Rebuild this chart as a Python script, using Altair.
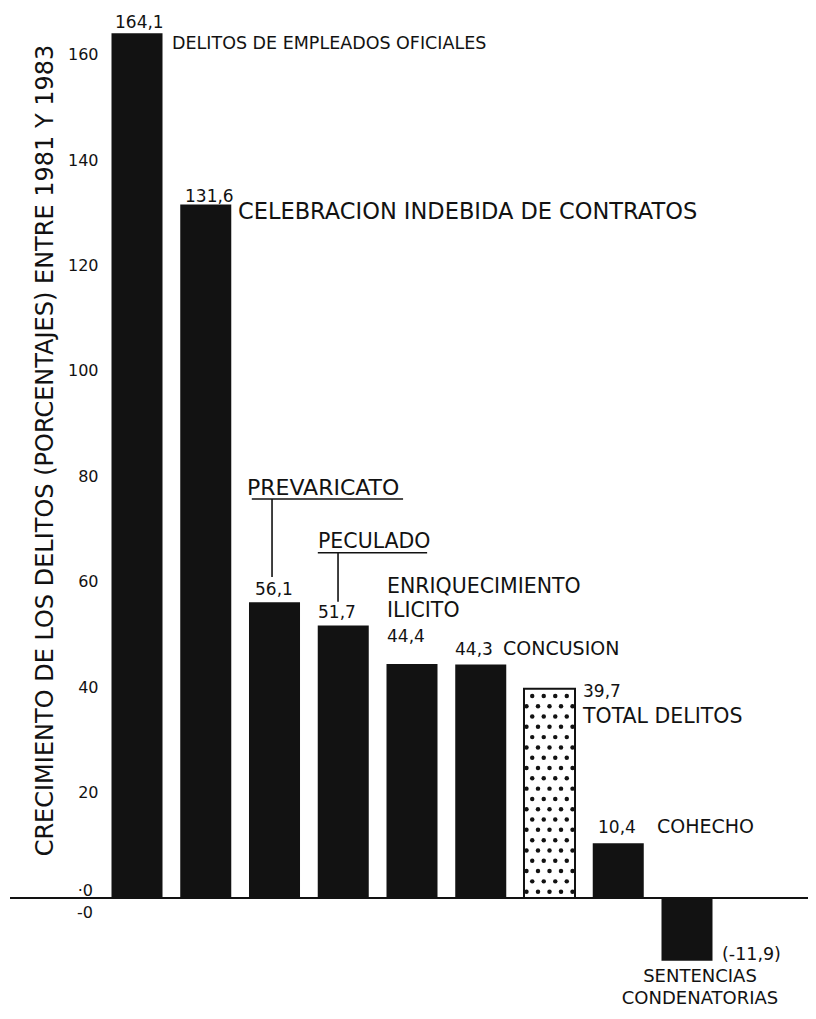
import altair as alt
import numpy as np
import pandas as pd

# ---------------- data ----------------
categories = [
    "DELITOS DE EMPLEADOS OFICIALES",
    "CELEBRACION INDEBIDA DE CONTRATOS",
    "PREVARICATO",
    "PECULADO",
    "ENRIQUECIMIENTO ILICITO",
    "CONCUSION",
    "TOTAL DELITOS",
    "COHECHO",
    "SENTENCIAS CONDENATORIAS",
]
values = [164.1, 131.6, 56.1, 51.7, 44.4, 44.3, 39.7, 10.4, -11.9]
value_labels = ["164,1", "131,6", "56,1", "51,7", "44,4", "44,3", "39,7", "10,4", "(-11,9)"]
y_ticks = [20, 40, 60, 80, 100, 120, 140, 160]
zero_labels = ["·0", "-0"]
axis_title = "CRECIMIENTO DE LOS DELITOS (PORCENTAJES) ENTRE 1981 Y 1983"
total_name = "TOTAL DELITOS"

# ---------------- styling ----------------
FONT = "DejaVu Sans"
INK = "#121212"
X_DOM = [-1.8764, 9.760]
Y_DOM = [-17.08, 168.88]
HALF = 0.371

df = pd.DataFrame({
    "idx": list(range(len(categories))),
    "name": categories,
    "value": values,
    "vlabel": value_labels,
})

xs = alt.Scale(domain=X_DOM, nice=False, zero=False)
ys = alt.Scale(domain=Y_DOM, nice=False, zero=False)
yaxis = alt.Axis(
    values=y_ticks,
    title=axis_title,
    labelFont=FONT, labelFontSize=16, labelColor=INK,
    domain=False, ticks=False, grid=False,
    offset=-90, labelPadding=0,
    titleFont=FONT, titleFontSize=24, titleFontWeight="normal", titleColor=INK,
    titleAngle=270, titleX=-53, titleY=442,
    titleAlign="center", titleBaseline="middle",
)


def X(f):
    return alt.X(f, type="quantitative", scale=xs, axis=None)


def Y(f):
    return alt.Y(f, type="quantitative", scale=ys, axis=yaxis)


base = alt.Chart(df)

solid = (
    base.transform_filter(alt.datum.name != total_name)
    .transform_calculate(x0=f"datum.idx - {HALF}", x1=f"datum.idx + {HALF}", zero="0")
    .mark_bar(color=INK)
    .encode(x=X("x0"), x2="x1:Q", y=Y("value"), y2="zero:Q")
)

hatched = (
    base.transform_filter(alt.datum.name == total_name)
    .transform_calculate(x0=f"datum.idx - {HALF}", x1=f"datum.idx + {HALF}", zero="0")
    .mark_bar(fill="white", stroke=INK, strokeWidth=2)
    .encode(x=X("x0"), x2="x1:Q", y=Y("value"), y2="zero:Q")
)

# dotted texture of the total bar
ti = categories.index(total_name)
tv = values[ti]
row_a = np.linspace(-0.335, 0.335, 5)
row_b = (row_a[:-1] + row_a[1:]) / 2
dx_list, dy_list = [], []
yy = 1.2
r = 0
while yy < tv - 0.6:
    offs = row_a if r % 2 == 0 else row_b
    for o in offs:
        dx_list.append(ti + o)
        dy_list.append(yy)
    yy += 1.955
    r += 1
dots_df = pd.DataFrame({"x": dx_list, "y": dy_list})
dots = alt.Chart(dots_df).mark_circle(color=INK, size=20, opacity=1).encode(
    x=X("x"), y=Y("y")
)

zero_line = alt.Chart(pd.DataFrame({"y": [0]})).mark_rule(color=INK, strokeWidth=2).encode(
    x=alt.value(2), x2=alt.value(808), y=Y("y")
)

zdf = pd.DataFrame({"t": zero_labels, "y": [0, 0]})
zero_top = alt.Chart(zdf).transform_filter(alt.datum.t == zero_labels[0]).mark_text(
    font=FONT, fontSize=16, color=INK, align="right", baseline="alphabetic", dy=-2
).encode(x=alt.value(85), y=Y("y"), text="t:N")
zero_bottom = alt.Chart(zdf).transform_filter(alt.datum.t == zero_labels[1]).mark_text(
    font=FONT, fontSize=16, color=INK, align="right", baseline="alphabetic", dy=20
).encode(x=alt.value(85), y=Y("y"), text="t:N")


def leader(i, xoff, ylo, yhi, ux0, ux1):
    sub = base.transform_filter(alt.datum.idx == i)
    vert = sub.transform_calculate(
        lx=f"datum.idx + ({xoff})", ya=f"datum.value + {ylo}", yb=f"datum.value + {yhi}"
    ).mark_rule(color=INK, strokeWidth=1.6).encode(x=X("lx"), y=Y("ya"), y2="yb:Q")
    under = sub.transform_calculate(
        ua=f"datum.idx + ({ux0})", ub=f"datum.idx + ({ux1})", yu=f"datum.value + {yhi}"
    ).mark_rule(color=INK, strokeWidth=1.4).encode(x=X("ua"), x2="ub:Q", y=Y("yu"))
    return [vert, under]


def label(field, i, dx, dy, size, align="left", line_height=None):
    kw = dict(font=FONT, fontSize=size, color=INK, align=align, baseline="alphabetic", dx=dx, dy=dy)
    if line_height:
        kw.update(lineBreak=" ", lineHeight=line_height)
    return (
        base.transform_filter(alt.datum.idx == i)
        .mark_text(**kw)
        .encode(x=X("idx"), y=Y("value"), text=f"{field}:N")
    )


texts = [
    label("vlabel", 0, -22, -5.2, 17),
    label("name", 0, 35, 15.8, 17.5),
    label("vlabel", 1, -20.75, -2.5, 17),
    label("name", 1, 32.25, 14.5, 22.5),
    label("vlabel", 2, -19.5, -7.4, 17),
    label("name", 2, -27.5, -107.4, 22),
    label("vlabel", 3, -25.25, -7.5, 17),
    label("name", 3, -25.25, -77.5, 20.5),
    label("vlabel", 4, -25, -22, 17),
    label("name", 4, -25, -71, 20.5, line_height=24),
    label("vlabel", 5, -25.75, -9.5, 17),
    label("name", 5, 22.25, -9.5, 19),
    label("vlabel", 6, 33.5, 8.2, 17),
    label("name", 6, 33.5, 34.2, 20.5),
    label("vlabel", 7, -20.25, -10.2, 17),
    label("name", 7, 38.75, -10.2, 19),
    label("vlabel", 8, 35, -1, 17.5),
    label("name", 8, 13, 21.3, 18, align="center", line_height=21.5),
]

layers = [solid, hatched, dots, zero_line, zero_top, zero_bottom]
layers += leader(2, -0.036, 4.8, 19.6, -0.33, 1.87)
layers += leader(3, -0.076, 4.5, 13.8, -0.37, 1.22)
layers += texts

chart = (
    alt.layer(*layers)
    .properties(
        width=800,
        height=980,
        padding={"left": 0, "top": 0, "right": 0, "bottom": 20},
        autosize=alt.AutoSizeParams(type="none"),
        background="white",
    )
    .configure_view(stroke=None)
)

chart.save("out.html", embed_options={"renderer": "svg", "actions": False})
